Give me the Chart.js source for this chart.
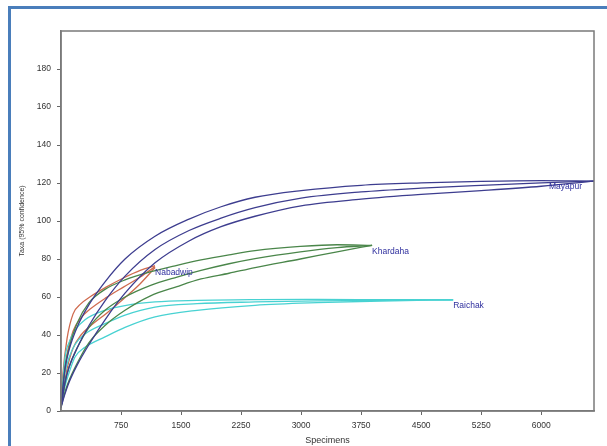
<!DOCTYPE html>
<html>
<head>
<meta charset="utf-8">
<script src="https://cdn.jsdelivr.net/npm/chart.js@4/dist/chart.umd.min.js"></script>
<style>
  html, body { margin: 0; padding: 0; background: #ffffff; overflow: hidden; }
  #frame { position: absolute; left: 8px; top: 6px; width: 700px; height: 600px;
           border-left: 3px solid #4a7ebb; border-top: 3px solid #4a7ebb; }
  #wrap { position: absolute; left: 0; top: 0; width: 607px; height: 446px; }
</style>
</head>
<body>
<div id="frame"></div>
<div id="wrap"><canvas id="c" width="607" height="446"></canvas></div>
<script>
// ---- data ----
const xTicks = [750, 1500, 2250, 3000, 3750, 4500, 5250, 6000];
const yTicks = [0, 20, 40, 60, 80, 100, 120, 140, 160, 180];

const mayapurX     = [0, 50, 100, 200, 350, 550, 800, 1175, 1600, 2000, 2425, 3000, 3750, 4500, 5250, 6000, 6660];
const mayapurUpper = [2, 22, 32, 44, 56, 68, 80, 92, 101, 107.5, 112.5, 116, 118.8, 120.1, 120.9, 121.3, 121];
const mayapurMean  = [2, 15, 23, 33, 45, 58, 71, 85, 95, 101.5, 107, 112, 115.3, 117.3, 118.8, 120.1, 121];
const mayapurLower = [2, 9, 15, 24, 35, 48, 62, 78, 89.5, 97, 102.5, 108, 111.5, 114, 116, 118.3, 121];

const khardahaX     = [0, 50, 100, 200, 350, 550, 800, 1112, 1450, 1750, 2100, 2425, 2990, 3450, 3887];
const khardahaUpper = [2, 23, 33, 46, 57, 64, 69, 73.2, 76.7, 79.5, 82.2, 84.4, 86.6, 87.5, 87.2];
const khardahaMean  = [2, 15, 23, 33, 44, 53, 60, 66, 70.5, 74, 77.5, 80.2, 83.8, 86, 87.2];
const khardahaLower = [2, 10, 16, 25, 36, 45, 53, 60.5, 65.5, 69.5, 72.5, 75.5, 80, 83.8, 87.2];

const raichakX     = [0, 50, 100, 175, 300, 550, 800, 1175, 1700, 2425, 3200, 4000, 4900];
const raichakUpper = [2, 28, 36, 42.5, 48, 53, 55.5, 57.4, 58.2, 58.6, 58.7, 58.6, 58.5];
const raichakMean  = [2, 20, 28, 35, 40.5, 46, 50.5, 54.7, 56.5, 57.4, 58, 58.3, 58.5];
const raichakLower = [2, 13, 20, 28.4, 33.5, 39, 44, 49.5, 53, 55.6, 57, 57.9, 58.5];

const nabadwipX     = [0, 25, 75, 150, 250, 360, 570, 780, 990, 1175];
const nabadwipUpper = [2, 20, 38, 51, 56.5, 60, 65.3, 70, 74, 76.5];
const nabadwipMean  = [2, 15, 30, 42, 49, 53.5, 59.8, 65.2, 70.5, 76];
const nabadwipLower = [2, 10, 22, 33, 40, 44.5, 51.5, 59, 67, 75.5];

const siteNames  = ['Mayapur', 'Khardaha', 'Raichak', 'Nabadwip'];
// label anchor = end point of each curve (data coordinates)
const labelX = [6660, 3887, 4900, 1175];
const labelY = [121, 87.2, 58.5, 76];

// ---- build datasets ----
function pts(xs, ys) { return xs.map((x, i) => ({ x: x, y: ys[i] })); }
const series = [
  { xs: mayapurX,  ys: [mayapurUpper, mayapurMean, mayapurLower],    color: '#3d3d8f' },
  { xs: khardahaX, ys: [khardahaUpper, khardahaMean, khardahaLower], color: '#4a864a' },
  { xs: raichakX,  ys: [raichakUpper, raichakMean, raichakLower],    color: '#48d2d2' },
  { xs: nabadwipX, ys: [nabadwipUpper, nabadwipMean, nabadwipLower], color: '#cf6a4e' }
];
const datasets = [];
series.forEach((s, si) => {
  s.ys.forEach((ys, k) => {
    datasets.push({
      label: siteNames[si] + ['-upper', '-mean', '-lower'][k],
      data: pts(s.xs, ys),
      borderColor: s.color,
      borderWidth: 1.3,
      pointRadius: 0,
      fill: false,
      cubicInterpolationMode: 'monotone'
    });
  });
});

const framePlugin = {
  id: 'frame',
  afterDraw(chart) {
    const a = chart.chartArea, ctx = chart.ctx;
    ctx.save();
    ctx.strokeStyle = '#7a7a7a';
    ctx.lineWidth = 1.5;
    ctx.strokeRect(a.left, a.top, a.right - a.left, a.bottom - a.top);
    ctx.restore();
  }
};

const labelPlugin = {
  id: 'siteLabels',
  afterDatasetsDraw(chart) {
    const ctx = chart.ctx, xs = chart.scales.x, ys = chart.scales.y;
    ctx.save();
    ctx.fillStyle = '#2f2f9e';
    ctx.font = '8.5px "Liberation Sans", Arial, sans-serif';
    ctx.textBaseline = 'middle';
    siteNames.forEach((name, i) => {
      let px = xs.getPixelForValue(labelX[i]);
      const py = ys.getPixelForValue(labelY[i]) + 6;
      const w = ctx.measureText(name).width;
      if (px + w > chart.chartArea.right - 2) {
        ctx.textAlign = 'right';
        px = chart.chartArea.right - 12;
      } else {
        ctx.textAlign = 'left';
      }
      ctx.fillText(name, px, py);
    });
    ctx.restore();
  }
};

const tickFont = { family: '"Liberation Sans", Arial, sans-serif', size: 8.5 };

new Chart(document.getElementById('c'), {
  type: 'line',
  data: { datasets: datasets },
  plugins: [framePlugin, labelPlugin],
  options: {
    responsive: false,
    animation: false,
    events: [],
    layout: { padding: { left: 0, top: 31, right: 13, bottom: 0 } },
    plugins: { legend: { display: false }, tooltip: { enabled: false } },
    scales: {
      x: {
        type: 'linear',
        min: 0, max: 6660,
        afterBuildTicks(scale) { scale.ticks = xTicks.map(v => ({ value: v })); },
        afterFit(scale) { scale.height = 35; },
        grid: { drawOnChartArea: false, drawTicks: true, tickLength: 4, color: '#666' },
        border: { display: true, color: '#7a7a7a', width: 1.5 },
        ticks: { font: tickFont, color: '#333', padding: 6, maxRotation: 0, autoSkip: false,
                 callback: v => String(v) },
        title: { display: true, text: 'Specimens', color: '#333',
                 font: { family: '"Liberation Sans", Arial, sans-serif', size: 9 },
                 padding: { top: 0, bottom: 0 } }
      },
      y: {
        type: 'linear',
        min: 0, max: 200,
        afterBuildTicks(scale) { scale.ticks = yTicks.map(v => ({ value: v })); },
        afterFit(scale) { scale.width = 61; },
        grid: { drawOnChartArea: false, drawTicks: true, tickLength: 4, color: '#666' },
        border: { display: true, color: '#7a7a7a', width: 1.5 },
        ticks: { font: tickFont, color: '#333', padding: 6, autoSkip: false,
                 callback: v => String(v) },
        title: { display: true, text: 'Taxa (95% confidence)', color: '#333',
                 font: { family: '"Liberation Sans", Arial, sans-serif', size: 7 },
                 padding: { top: 18, bottom: 0 } }
      }
    }
  }
});
</script>
</body>
</html>
